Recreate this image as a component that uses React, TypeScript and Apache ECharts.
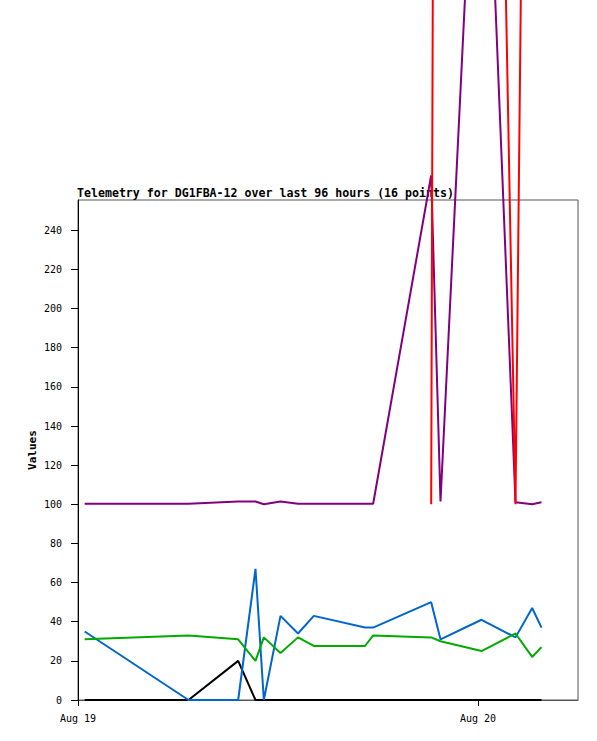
import React, { useEffect, useRef } from "react";
import * as echarts from "echarts";

// time of each sample, hours after Aug 19 00:00
const hours = [0.4, 6.63, 9.61, 10.65, 11.15, 12.15, 13.2, 14.15, 17.22, 17.71, 21.19, 21.75, 24.21, 26.25, 27.25, 27.81];

const blackValues = [0, 0, 20, 0, 0, 0, 0, 0, 0, 0, 0, 0, 0, 0, 0, 0];
const blueValues = [35, 0, 0, 67, 0, 43, 34, 43, 37, 37, 50, 31, 41, 32, 47, 37];
const greenValues = [31, 33, 31, 20, 32, 24, 32, 27.6, 27.6, 33, 32, 30, 25, 34, 22, 27];
const purpleValues = [100.3, 100.3, 101.4, 101.4, 100, 101.4, 100.3, 100.3, 100.3, 100.3, 268, 101.4, 532, 101, 100, 101];
const redValues: (number | null)[] = [null, null, null, null, null, null, null, null, null, null, 100, 1600, 1020, 100, 910, 950];

const xTicks = [0, 24];
const xTickLabels = ["Aug 19", "Aug 20"];
const yTicks = [0, 20, 40, 60, 80, 100, 120, 140, 160, 180, 200, 220, 240];

const titleText = "Telemetry for DG1FBA-12 over last 96 hours (16 points)";
const yName = "Values";

const mono = "'DejaVu Sans Mono', monospace";

function pairs(vals: (number | null)[]) {
  const out: [number, number][] = [];
  vals.forEach((v, i) => {
    if (v !== null) out.push([hours[i], v]);
  });
  return out;
}

export default function App() {
  const ref = useRef<HTMLDivElement>(null);
  useEffect(() => {
    if (!ref.current) return;
    const chart = echarts.init(ref.current, null, { renderer: "svg" });
    const mk = (name: string, vals: (number | null)[], color: string) => ({
      name,
      type: "line",
      data: pairs(vals),
      symbol: "none",
      showSymbol: false,
      clip: false,
      z: 10,
      lineStyle: { color, width: 2 },
      itemStyle: { color },
      emphasis: { disabled: true },
    });
    chart.setOption({
      animation: false,
      backgroundColor: "#ffffff",
      title: {
        text: titleText,
        left: 77,
        top: 187,
        padding: 0,
        z: 1,
        textStyle: { fontFamily: mono, fontWeight: "bold", fontSize: 11.6, color: "#000" },
      },
      grid: {
        left: 78,
        top: 200,
        width: 500,
        height: 500,
        show: true,
        borderColor: "#555",
        borderWidth: 1,
        backgroundColor: "transparent",
      },
      xAxis: {
        type: "value",
        min: 0,
        max: 30,
        interval: 24,
        axisLine: { show: true, lineStyle: { color: "#555", width: 1 } },
        axisTick: { show: true, customValues: xTicks, length: 6, lineStyle: { color: "#000" } },
        axisLabel: {
          customValues: xTicks,
          formatter: (v: number) => xTickLabels[xTicks.indexOf(v)] ?? "",
          fontFamily: mono,
          fontSize: 10,
          color: "#000",
          margin: 13,
        },
        splitLine: { show: false },
      },
      yAxis: {
        type: "value",
        min: 0,
        max: 255.5,
        interval: 20,
        name: yName,
        nameLocation: "middle",
        nameGap: 40,
        nameMoveOverlap: false,
        nameTextStyle: { fontFamily: mono, fontWeight: "bold", fontSize: 11, color: "#000" },
        axisLine: { show: true, lineStyle: { color: "#000", width: 1 } },
        axisTick: { show: true, customValues: yTicks, length: 7, lineStyle: { color: "#000" } },
        axisLabel: {
          customValues: yTicks,
          fontFamily: mono,
          fontSize: 10,
          color: "#000",
          margin: 16,
        },
        splitLine: { show: false },
      },
      series: [
        mk("black", blackValues, "#000000"),
        mk("blue", blueValues, "#0066cc"),
        mk("green", greenValues, "#00aa00"),
        mk("purple", purpleValues, "#800080"),
        mk("red", redValues, "#ff0000"),
      ],
    });
    return () => chart.dispose();
  }, []);
  return (
    <div
      ref={ref}
      style={{ position: "absolute", left: 0, top: 0, width: 597, height: 741, background: "#fff" }}
    />
  );
}
